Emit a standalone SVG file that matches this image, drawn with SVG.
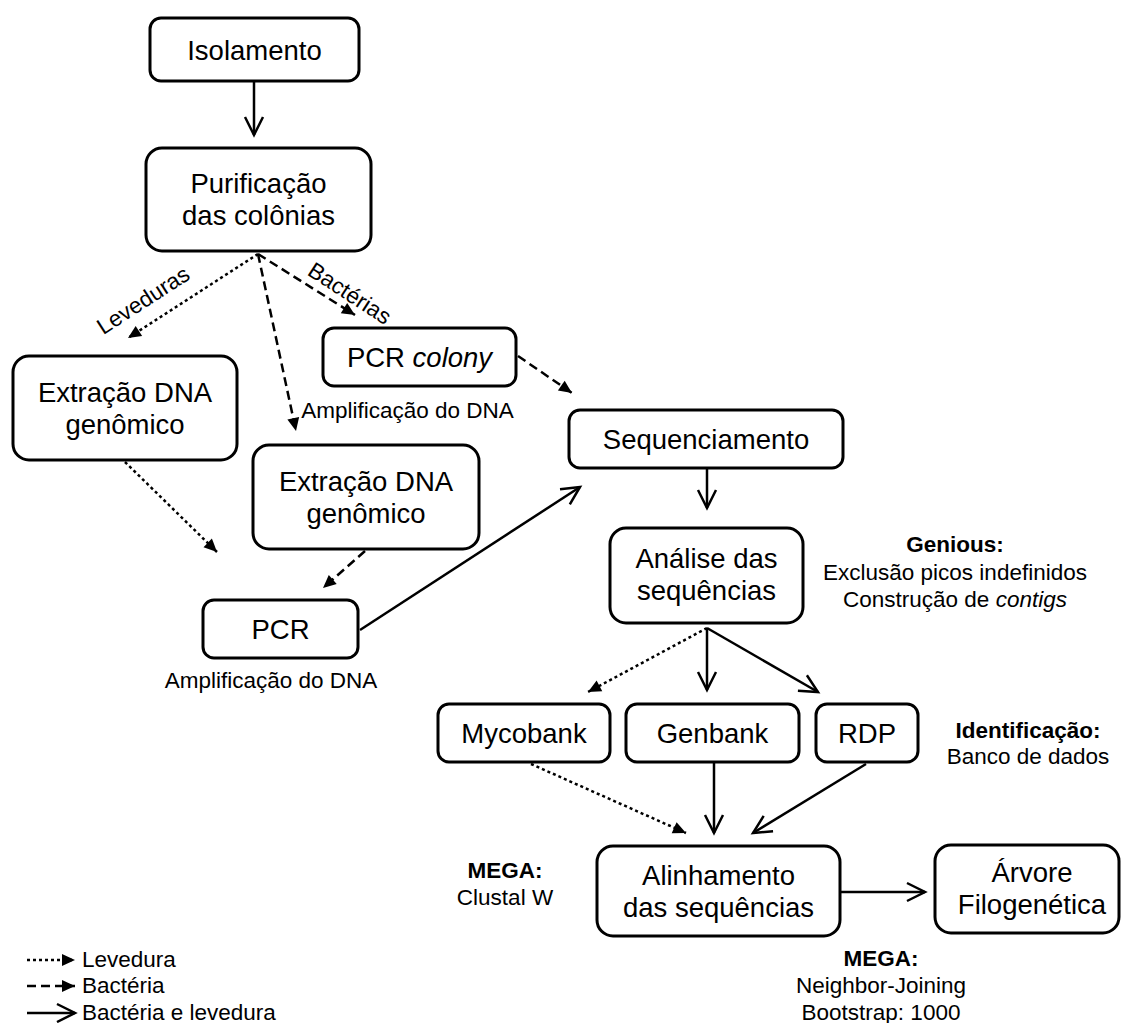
<svg xmlns="http://www.w3.org/2000/svg" width="1122" height="1023" viewBox="0 0 1122 1023">
<style>
.box{fill:#fff;stroke:#000;stroke-width:3}
.t{font-family:"Liberation Sans",Arial,sans-serif;font-size:27.5px;fill:#000;text-anchor:middle}
.n{font-family:"Liberation Sans",Arial,sans-serif;font-size:22.5px;fill:#000;text-anchor:middle}
.b{font-weight:bold}
.l{text-anchor:start}
.c{fill:none;stroke:#000;stroke-width:2.5}
.dot{stroke-dasharray:3 3}
.dash{stroke-dasharray:9 5}
.tri{marker-end:url(#tri)}
.vee{marker-end:url(#vee)}
</style>
<defs>
<marker id="tri" markerUnits="userSpaceOnUse" markerWidth="14" markerHeight="12" refX="13" refY="6" orient="auto" overflow="visible"><path d="M0,0 L13,6 L0,12 z" fill="#000"/></marker>
<marker id="vee" markerUnits="userSpaceOnUse" markerWidth="22" markerHeight="22" refX="19" refY="11" orient="auto" overflow="visible"><path d="M1,2 L19,11 L1,20" fill="none" stroke="#000" stroke-width="2.5"/></marker>
</defs>
<rect width="1122" height="1023" fill="#fff"/>
<g id="connectors">
<path class="c vee" d="M254,81 L254,135"/>
<path class="c dot tri" d="M258,254 L128,338"/>
<path class="c dash tri" d="M258,254 L296,431"/>
<path class="c dash tri" d="M258,254 L355,315"/>
<path class="c dash tri" d="M518,356 L572,393"/>
<path class="c dot tri" d="M125,462 L217,552"/>
<path class="c dash tri" d="M365,551 L323,588"/>
<path class="c vee" d="M360,630 L580,487"/>
<path class="c vee" d="M707,468 L707,508"/>
<path class="c dot tri" d="M707,628 L588,692"/>
<path class="c vee" d="M707,628 L707,690"/>
<path class="c vee" d="M707,628 L818,692"/>
<path class="c dot tri" d="M531,764 L686,833"/>
<path class="c vee" d="M714,762 L714,833"/>
<path class="c vee" d="M866,764 L753,833"/>
<path class="c vee" d="M840,892 L925,892"/>
</g>
<g id="n1"><rect class="box" x="150" y="18" width="209" height="63" rx="11"/><text class="t" x="254.5" y="60">Isolamento</text></g>
<g id="n2"><rect class="box" x="146" y="148" width="225" height="103" rx="16"/><text class="t" x="258.5" y="193">Purificação</text><text class="t" x="258.5" y="225">das colônias</text></g>
<g id="n3"><rect class="box" x="13" y="356" width="224" height="104" rx="16"/><text class="t" x="125" y="402">Extração DNA</text><text class="t" x="125" y="434">genômico</text></g>
<g id="n4"><rect class="box" x="323" y="328" width="193" height="58" rx="11"/><text class="t" x="419.5" y="367">PCR <tspan font-style="italic">colony</tspan></text></g>
<g id="n5"><rect class="box" x="253" y="445" width="226" height="104" rx="16"/><text class="t" x="366" y="491">Extração DNA</text><text class="t" x="366" y="523">genômico</text></g>
<g id="n6"><rect class="box" x="203" y="600" width="155" height="58" rx="11"/><text class="t" x="280.5" y="639">PCR</text></g>
<g id="n7"><rect class="box" x="569" y="410" width="274" height="58" rx="11"/><text class="t" x="706" y="449">Sequenciamento</text></g>
<g id="n8"><rect class="box" x="610" y="528" width="193" height="95" rx="16"/><text class="t" x="706.5" y="568">Análise das</text><text class="t" x="706.5" y="600">sequências</text></g>
<g id="n9"><rect class="box" x="438" y="704" width="172" height="58" rx="11"/><text class="t" x="524" y="743">Mycobank</text></g>
<g id="n10"><rect class="box" x="626" y="704" width="173" height="58" rx="11"/><text class="t" x="712.5" y="743">Genbank</text></g>
<g id="n11"><rect class="box" x="816" y="704" width="102" height="58" rx="11"/><text class="t" x="867" y="743">RDP</text></g>
<g id="n12"><rect class="box" x="597" y="846" width="243" height="90" rx="16"/><text class="t" x="718.5" y="885">Alinhamento</text><text class="t" x="718.5" y="917">das sequências</text></g>
<g id="n13"><rect class="box" x="935" y="845" width="184" height="88" rx="16"/><text class="t" x="1032" y="882">Árvore</text><text class="t" x="1032" y="914">Filogenética</text></g>
<g id="labels">
<text class="n" transform="translate(143,300) rotate(-33)" y="8">Leveduras</text>
<text class="n" transform="translate(350,293) rotate(33)" y="8">Bactérias</text>
<text class="n" x="407.5" y="418">Amplificação do DNA</text>
<text class="n" x="271" y="688">Amplificação do DNA</text>
<text class="n b" x="955" y="552">Genious:</text>
<text class="n" x="955" y="580">Exclusão picos indefinidos</text>
<text class="n" x="955" y="607">Construção de <tspan font-style="italic">contigs</tspan></text>
<text class="n b" x="1028" y="738">Identificação:</text>
<text class="n" x="1028" y="764">Banco de dados</text>
<text class="n b" x="505" y="878">MEGA:</text>
<text class="n" x="505" y="905">Clustal W</text>
<text class="n b" x="881" y="966">MEGA:</text>
<text class="n" x="881" y="993">Neighbor-Joining</text>
<text class="n" x="881" y="1020">Bootstrap: 1000</text>
</g>
<g id="legend">
<path class="c dot tri" d="M27,960 L75,960"/>
<path class="c dash tri" d="M27,986 L75,986"/>
<path class="c vee" d="M27,1013 L75,1013"/>
<text class="n l" x="82" y="967">Levedura</text>
<text class="n l" x="82" y="993">Bactéria</text>
<text class="n l" x="82" y="1020">Bactéria e levedura</text>
</g>
</svg>
